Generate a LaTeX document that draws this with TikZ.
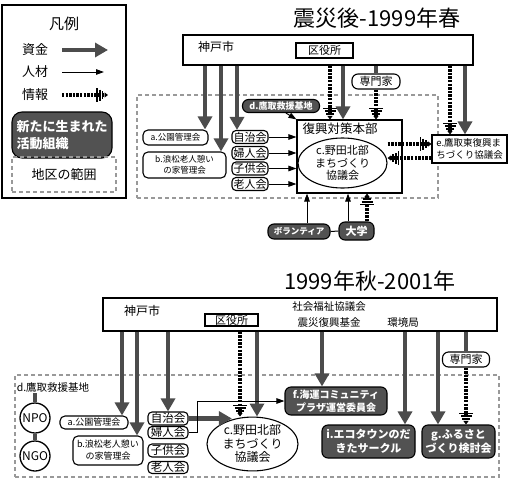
\documentclass[tikz,border=0pt]{standalone}
\usepackage{fontspec}
\newfontfamily\jp{Noto Sans CJK JP}
\usetikzlibrary{arrows.meta,shapes.geometric}
\newcommand\fsz[2]{\fontsize{#1}{#2}\selectfont}
\begin{document}
\begin{tikzpicture}[x=1pt,y=-1pt,
  every node/.style={inner sep=0pt, font=\jp},
  plain/.style={draw, line width=1.1pt, fill=white, align=center},
  rnd/.style={plain, rounded corners=5pt},
  dark/.style={draw, line width=1.1pt, fill=black!68, text=white, rounded corners=6pt, align=center},
  region/.style={draw=black!40, line width=2pt, dash pattern=on 4pt off 3pt},
  fund/.style={draw=black!70, line width=4.5pt, -{Triangle[width=14pt,length=13pt]}},
  person/.style={draw=black, line width=1pt, -{Triangle[width=5.5pt,length=8pt]}},
  info/.style={draw=black, line width=3.6pt, dash pattern=on 2.4pt off 1.2pt,
    -{Bar[width=14pt,line width=1.6pt,sep=1.2pt] Bar[width=11pt,line width=1.6pt,sep=1.2pt] Bar[width=8pt,line width=1.6pt,sep=1.2pt] Triangle[width=5pt,length=3.5pt]}},
  link/.style={draw=black!70, line width=3.5pt},
  sz/.style 2 args={minimum width=#1pt, minimum height=#2pt}]
\useasboundingbox (0,0) rectangle (510,495);

% ---------------- legend ----------------
\node[draw, line width=1.6pt, sz={124}{193}] (legend) at (64,101.5) {};
\node[font=\jp\fsz{15}{18}] (hanrei) at (64,24) {凡例};
\node[font=\jp\fsz{13}{15}] (shikin) at (35,50) {資金};
\node[font=\jp\fsz{13}{15}] (jinzai) at (35,72) {人材};
\node[font=\jp\fsz{13}{15}] (joho) at (35,95) {情報};
\coordinate (ls1) at (62,50); \coordinate (le1) at (108,50);
\coordinate (ls2) at (62,72); \coordinate (le2) at (104,72);
\coordinate (ls3) at (62,95); \coordinate (le3) at (108,95);
\draw[fund] (ls1) -- (le1);
\draw[person] (ls2) -- (le2);
\draw[info] (ls3) -- (le3);
\node[dark, rounded corners=10pt, sz={100}{46}, align=left, font=\jp\bfseries\fsz{13}{17}] (newo) at (62,135) {新たに生まれた\\活動組織};
\node[region, sz={104}{35}, font=\jp\fsz{13}{15}] (legreg) at (64,174.5) {地区の範囲};

% ---------------- top diagram ----------------
\node[font=\jp\fsz{22}{26}] (title1) at (377,18) {震災後-1999年春};
\node[region, sz={301}{103}] (reg1) at (287.5,146.5) {};
\node[draw, line width=1.3pt, fill=white, sz={290}{30}] (kobe1) at (328,50) {};
\node[font=\jp\fsz{12}{14}] (kobe1t) at (216,47) {神戸市};
\node[plain, sz={57}{15}, font=\jp\fsz{11}{13}] (ku1) at (324.5,50.5) {区役所};
\node[rnd, rounded corners=6pt, sz={48}{15}, font=\jp\fsz{11}{13}] (sen1) at (376,81.5) {専門家};
\node[dark, sz={77}{13}, font=\jp\bfseries\fsz{9}{11}] (d1) at (281,106) {d.鷹取救援基地};
\node[rnd, sz={65}{15}, font=\jp\fsz{8.5}{10}] (a1) at (175.5,137.5) {a.公園管理会};
\node[rnd, sz={83}{26}, font=\jp\fsz{8.5}{11}] (b1) at (184.5,165) {b.浪松老人憩い\\の家管理会};
\node[rnd, rounded corners=4pt, sz={36}{13}, font=\jp\fsz{11}{13}] (jichi1) at (250,137) {自治会};
\node[rnd, rounded corners=4pt, sz={36}{13}, font=\jp\fsz{11}{13}] (fujin1) at (250,153) {婦人会};
\node[rnd, rounded corners=4pt, sz={36}{13}, font=\jp\fsz{11}{13}] (kodomo1) at (250,168.5) {子供会};
\node[rnd, rounded corners=4pt, sz={36}{13}, font=\jp\fsz{11}{13}] (rojin1) at (250,184) {老人会};
\node[plain, sz={105}{73}] (fukko) at (349.5,156.5) {};
\node[font=\jp\fsz{12.5}{15}] (fukkot) at (340,129) {復興対策本部};
\node[plain, ellipse, sz={89}{50}, font=\jp\fsz{11}{12.5}] (c1) at (342.5,163) {c.野田北部\\まちづくり\\協議会};
\node[plain, sz={75}{28}, align=left, font=\jp\fsz{9.5}{12}] (e1) at (469.5,149) {e.鷹取東復興ま\\ちづくり協議会};
\node[dark, sz={62}{15}, font=\jp\bfseries\fsz{8.5}{10}] (vol) at (299,231.5) {ボランティア};
\node[dark, sz={35}{18}, font=\jp\bfseries\fsz{11}{13}] (dai) at (356.5,231) {大学};

\coordinate (ca) at (205,0); \coordinate (cb) at (221,0); \coordinate (cc) at (237,0);
\coordinate (cd) at (330,0); \coordinate (ce) at (343,0);
\coordinate (cg) at (450,0); \coordinate (ch) at (465,0);
\coordinate (cv) at (307,0); \coordinate (cw) at (348,0); \coordinate (cx) at (367,0);

\draw[fund] (ca |- kobe1.south) -- (ca |- a1.north);
\draw[fund] (cb |- kobe1.south) -- (cb |- b1.north);
\draw[fund] (cc |- kobe1.south) -- (cc |- jichi1.north);
\draw[person] (d1.-55) -- (fukko.north west);
\draw[info] (cd |- kobe1.south) -- (cd |- fukko.north);
\draw[fund] (ce |- kobe1.south) -- (ce |- fukko.north);
\draw[link] (sen1.north |- kobe1.south) -- (sen1.north);
\draw[info] (sen1.south) -- (sen1.south |- fukko.north);
\draw[info] (cg |- kobe1.south) -- (cg |- e1.north);
\draw[fund] (ch |- kobe1.south) -- (ch |- e1.north);
\foreach \n in {jichi1,fujin1,kodomo1,rojin1}
  \draw[person] (\n.east) -- (\n.east -| fukko.west);
\draw[info] ([yshift=19pt]c1.east) -- ([yshift=5pt]e1.west);
\draw[info] ([yshift=-9pt]e1.west) -- ([yshift=5pt]c1.east);
\draw[line width=1pt] (vol.east) -- (dai.west);
\draw[person] (cv |- vol.north) -- (cv |- fukko.south);
\draw[person] (cw |- dai.north) -- (cw |- fukko.south);
\draw[info] (cx |- dai.north) -- (cx |- fukko.south);

% ---------------- bottom diagram ----------------
\node[font=\jp\fsz{22}{26}] (title2) at (370,281) {1999年秋-2001年};
\node[region, sz={484}{102}] (reg2) at (257,426) {};
\node[draw, line width=1.3pt, fill=white, sz={394}{33}] (kobe2) at (300,314.5) {};
\node[font=\jp\fsz{12}{14}] (kobe2t) at (142,311) {神戸市};
\node[plain, sz={53}{12}, font=\jp\fsz{11}{13}] (ku2) at (231.5,320) {区役所};
\node[font=\jp\fsz{10.5}{12}] (shakai) at (329,307) {社会福祉協議会};
\node[font=\jp\fsz{10.5}{12}] (shinsai) at (329,323) {震災復興基金};
\node[font=\jp\fsz{10.5}{12}] (kankyo) at (403,323) {環境局};

\node[font=\jp\fsz{10.5}{12}] (dtext) at (53,388) {d.鷹取救援基地};
\node[draw, circle, line width=1.3pt, minimum size=30pt, font=\jp\fsz{12}{14}] (npo) at (35,418) {NPO};
\node[draw, circle, line width=1.3pt, minimum size=30pt, font=\jp\fsz{12}{14}] (ngo) at (35,456) {NGO};
\node[rnd, sz={68}{13}, font=\jp\fsz{9}{11}] (a2) at (94,422.5) {a.公園管理会};
\node[rnd, sz={70}{29}, font=\jp\fsz{9}{12}] (b2) at (108,450.5) {b.浪松老人憩い\\の家管理会};
\node[rnd, rounded corners=4pt, sz={40}{13}, font=\jp\fsz{11.5}{13}] (jichi2) at (168,418.5) {自治会};
\node[rnd, rounded corners=4pt, sz={40}{12}, font=\jp\fsz{11.5}{13}] (fujin2) at (168,432.5) {婦人会};
\node[rnd, rounded corners=4pt, sz={40}{13}, font=\jp\fsz{11.5}{13}] (kodomo2) at (168,450.5) {子供会};
\node[rnd, rounded corners=4pt, sz={40}{12}, font=\jp\fsz{11.5}{13}] (rojin2) at (168,467.5) {老人会};
\node[plain, ellipse, sz={91}{48}, font=\jp\fsz{12}{13.5}] (c2) at (252.5,444) {c.野田北部\\まちづくり\\協議会};
\node[dark, sz={102}{28}, font=\jp\bfseries\fsz{10}{13}] (f2) at (336,401) {f.海運コミュニティ\\プラザ運営委員会};
\node[dark, sz={93}{33}, font=\jp\bfseries\fsz{11}{14}] (i2) at (368.5,441.5) {i.エコタウンのだ\\きたサークル};
\node[dark, sz={73}{33}, font=\jp\bfseries\fsz{11}{14}] (g2) at (458.5,441.5) {g.ふるさと\\づくり検討会};
\node[rnd, rounded corners=6pt, sz={47}{15}, font=\jp\fsz{11}{13}] (sen2) at (466,359.5) {専門家};

\coordinate (ba) at (122,0); \coordinate (bb) at (137,0);
\coordinate (bd) at (240,0); \coordinate (be) at (257,0);
\coordinate (bf) at (322,0); \coordinate (bi) at (405,0); \coordinate (bg) at (438,0);

\draw[fund] (ba |- kobe2.south) -- (ba |- a2.north);
\draw[fund] (bb |- kobe2.south) -- (bb |- b2.north);
\draw[fund] (jichi2.north |- kobe2.south) -- (jichi2.north);
\draw[info] (bd |- kobe2.south) -- (bd |- c2.north);
\draw[fund] (be |- kobe2.south) -- (be |- c2.north);
\draw[fund] (bf |- kobe2.south) -- (bf |- f2.north);
\draw[fund] (bi |- kobe2.south) -- (bi |- i2.north);
\draw[fund] (bg |- kobe2.south) -- (bg |- g2.north);
\draw[link] (sen2.north |- kobe2.south) -- (sen2.north);
\draw[info] (sen2.south) -- (sen2.south |- g2.north);
\draw[fund] (jichi2.east) -- (jichi2.east -| c2.130);
\draw[person] (fujin2.east) -- ++(9,0) |- (f2.west);
\draw[link] (dtext.south -| npo.north) -- (npo.north);
\draw[link] (npo.south) -- (ngo.north);
\end{tikzpicture}
\end{document}
